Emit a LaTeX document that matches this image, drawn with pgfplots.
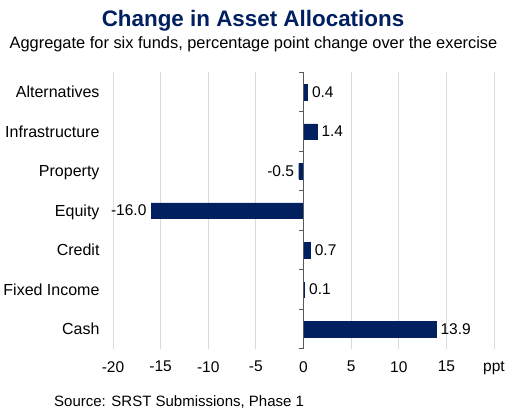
\documentclass[border=0pt]{standalone}
\usepackage{fontspec}
\setmainfont{Liberation Sans}
\usepackage{pgfplots}
\pgfplotsset{compat=1.18}
\definecolor{navy}{RGB}{0,32,96}
\definecolor{gridg}{RGB}{217,217,217}
\definecolor{axg}{RGB}{89,89,89}
\begin{document}
\begin{tikzpicture}[x=1pt,y=1pt]
\useasboundingbox (0,0) rectangle (508,415);
\node[font=\fontsize{22.4}{26}\selectfont\bfseries, text=navy, anchor=base, inner sep=0pt] at (253,388) {Change in Asset Allocations};
\node[font=\fontsize{16.4}{19}\selectfont, anchor=base, inner sep=0pt] at (253.5,366) {Aggregate for six funds, percentage point change over the exercise};
\node[font=\fontsize{15}{18}\selectfont, anchor=base west, inner sep=0pt] at (54,9) {Source: SRST Submissions, Phase 1};
\begin{axis}[
  at={(113pt,66.25pt)}, anchor=south west,
  scale only axis, width=381pt, height=276.5pt,
  xbar, bar width=15.5pt,
  xmin=-20, xmax=20, ymin=-0.5, ymax=6.5,
  xtick={-20,-15,...,20},
  xticklabels={-20,-15,-10,-5,0,5,10,15,ppt},
  ytick={0,...,6},
  yticklabels={Cash,Fixed Income,Credit,Equity,Property,Infrastructure,Alternatives},
  xmajorgrids, grid style={gridg, line width=0.8pt},
  axis line style={draw=none}, major tick length=0pt,
  xticklabel style={font=\fontsize{15.5}{18}\selectfont, yshift=-9pt},
  yticklabel style={font=\fontsize{16}{19}\selectfont, xshift=-10pt, text height=11.5pt, text depth=0pt},
  /pgf/number format/assume math mode=true,
  nodes near coords,
  nodes near coords style={font=\fontsize{15.5}{18}\selectfont, inner sep=4.5pt, /pgf/number format/fixed, /pgf/number format/fixed zerofill, /pgf/number format/precision=1, /pgf/number format/assume math mode=true},
]
\addplot[fill=navy, draw=navy] coordinates {(13.9,0) (0.1,1) (0.7,2) (-16.0,3) (-0.5,4) (1.4,5) (0.4,6)};
\draw[axg, line width=0.8pt] (axis cs:0,-0.5) -- (axis cs:0,6.5);
\draw[axg, line width=0.8pt] (axis cs:0,-0.5) -- ([xshift=-5pt]axis cs:0,-0.5);
\draw[axg, line width=0.8pt] (axis cs:0,0.5) -- ([xshift=-5pt]axis cs:0,0.5);
\draw[axg, line width=0.8pt] (axis cs:0,1.5) -- ([xshift=-5pt]axis cs:0,1.5);
\draw[axg, line width=0.8pt] (axis cs:0,2.5) -- ([xshift=-5pt]axis cs:0,2.5);
\draw[axg, line width=0.8pt] (axis cs:0,3.5) -- ([xshift=-5pt]axis cs:0,3.5);
\draw[axg, line width=0.8pt] (axis cs:0,4.5) -- ([xshift=-5pt]axis cs:0,4.5);
\draw[axg, line width=0.8pt] (axis cs:0,5.5) -- ([xshift=-5pt]axis cs:0,5.5);
\draw[axg, line width=0.8pt] (axis cs:0,6.5) -- ([xshift=-5pt]axis cs:0,6.5);
\end{axis}
\end{tikzpicture}
\end{document}
